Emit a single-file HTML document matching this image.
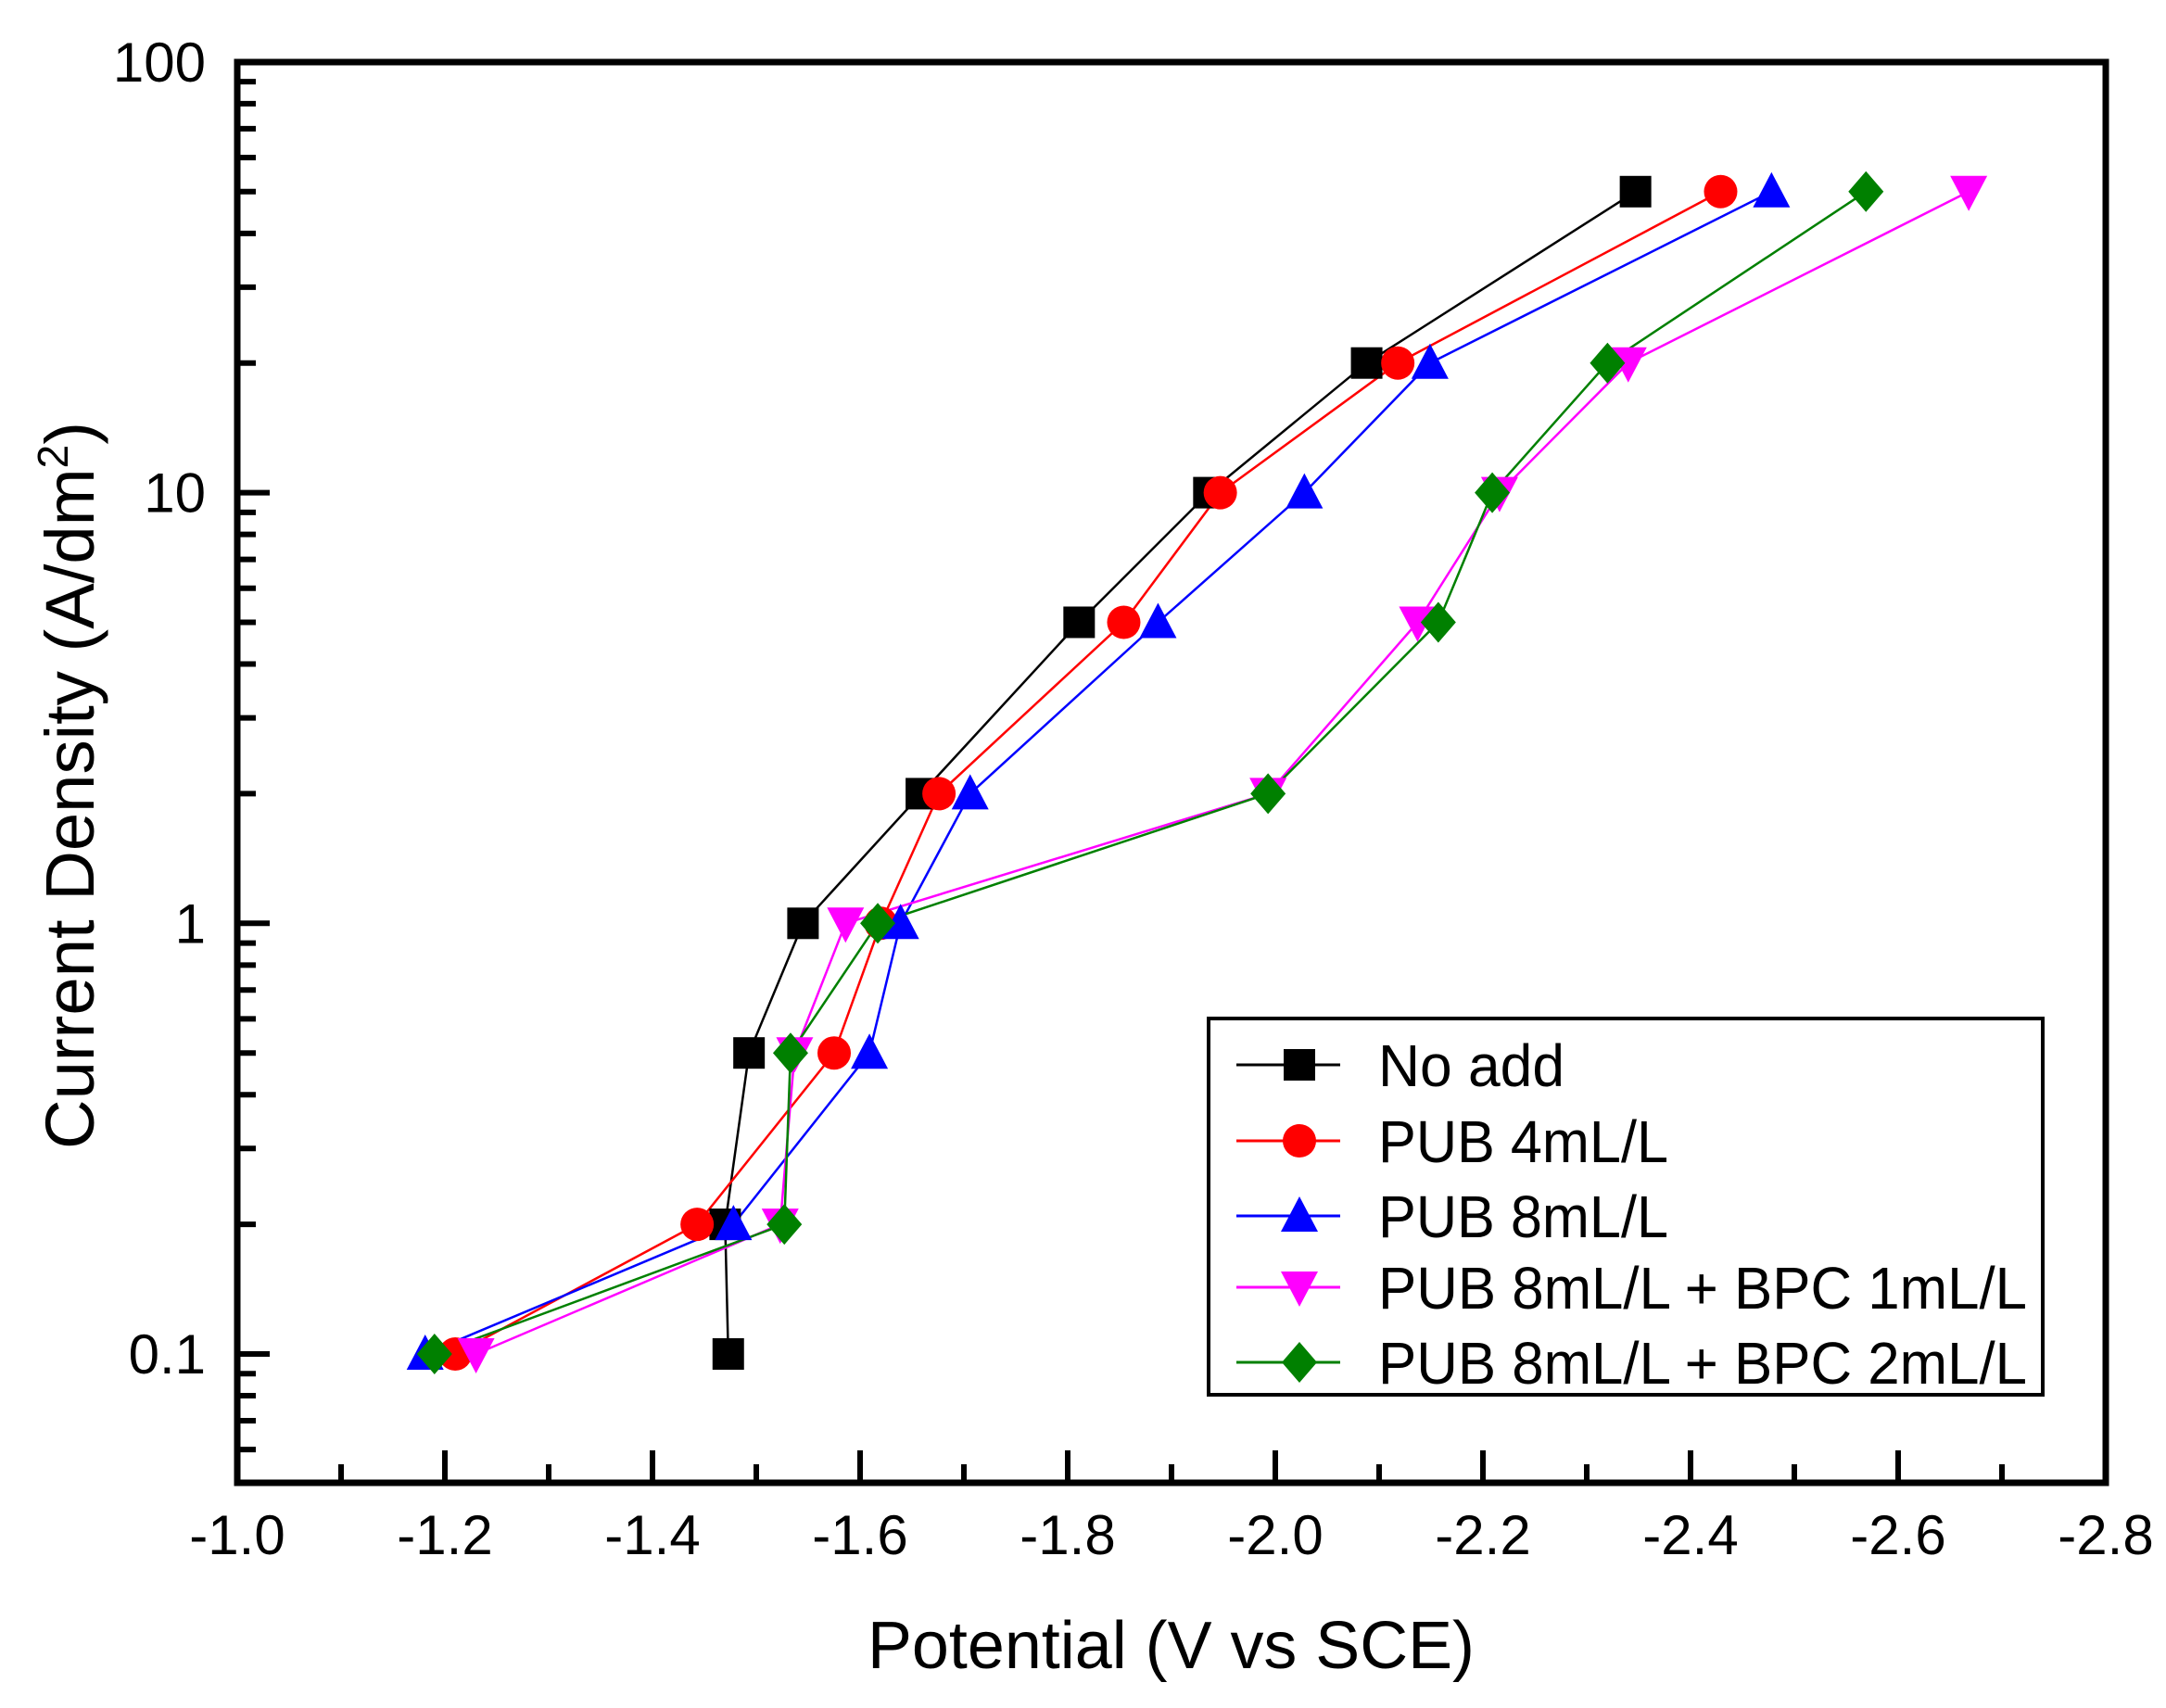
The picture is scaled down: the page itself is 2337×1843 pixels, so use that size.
<!DOCTYPE html>
<html><head><meta charset="utf-8"><style>html,body{margin:0;padding:0;background:#fff}svg{display:block}</style></head>
<body>
<svg width="2337" height="1843" viewBox="0 0 2337 1843" xmlns="http://www.w3.org/2000/svg" font-family="Liberation Sans, Arial, sans-serif">
<rect width="2337" height="1843" fill="#fff"/>
<g id="ticks" stroke="#000" stroke-width="6"></g>
<g id="series"></g>
<rect x="256" y="67" width="2016" height="1533" fill="none" stroke="#000" stroke-width="7"/>
<g id="labels" font-size="60" fill="#000"></g>
<text x="936" y="1800" font-size="72" textLength="655" lengthAdjust="spacingAndGlyphs">Potential (V vs SCE)</text>
<text transform="translate(101,1240) rotate(-90)" font-size="74" textLength="785" lengthAdjust="spacingAndGlyphs">Current Density (A/dm<tspan dy="-28" font-size="46">2</tspan><tspan dy="28">)</tspan></text>
<rect x="1304" y="1099" width="900" height="406" fill="#fff" stroke="#000" stroke-width="4"/>
<g id="legend" font-size="64"></g>
<script>
var NS="http://www.w3.org/2000/svg";
function X(v){return 256+(-1.0-v)/0.2*224;}
function Y(v){return 1461-(Math.log10(v)+1)*464.7;}
function el(p,t,a){var e=document.createElementNS(NS,t);for(var k in a)e.setAttribute(k,a[k]);p.appendChild(e);return e;}
var tk=document.getElementById('ticks'),lb=document.getElementById('labels');
for(var i=0;i<=18;i++){var v=-1.0-i*0.1,x=X(v),L=(i%2==0)?35:20;
 el(tk,'line',{x1:x,y1:1600,x2:x,y2:1600-L});
 if(i%2==0){var t=el(lb,'text',{x:x,y:1677,'text-anchor':'middle'});t.textContent=v.toFixed(1);}}
for(var d=-2;d<=1;d++){for(var m=1;m<=9;m++){var v=m*Math.pow(10,d),y=Y(v);if(y<67||y>1600)continue;
 el(tk,'line',{x1:256,y1:y,x2:256+(m==1?35:20),y2:y});}}
[[0.1,"0.1"],[1,"1"],[10,"10"],[100,"100"]].forEach(function(a){var t=el(lb,'text',{x:222,y:Y(a[0])+21,'text-anchor':'end'});t.textContent=a[1];});
var ys=[0.1,0.2,0.5,1,2,5,10,20,50];
var S=[
 ["#000","sq",[-1.473,-1.47,-1.493,-1.545,-1.659,-1.811,-1.936,-2.088,-2.347],"No add",201],
 ["#ff0000","ci",[-1.21,-1.443,-1.575,-1.62,-1.676,-1.854,-1.947,-2.118,-2.429],"PUB 4mL/L",313],
 ["#0000ff","tu",[-1.181,-1.478,-1.609,-1.639,-1.706,-1.887,-2.028,-2.149,-2.478],"PUB 8mL/L",313],
 ["#ff00ff","td",[-1.23,-1.523,-1.537,-1.586,-1.993,-2.137,-2.216,-2.34,-2.668],"PUB 8mL/L + BPC 1mL/L",700],
 ["#008000","di",[-1.19,-1.527,-1.533,-1.617,-1.993,-2.157,-2.209,-2.32,-2.569],"PUB 8mL/L + BPC 2mL/L",700]];
function mk(g,type,x,y,c){var r=17;
 if(type=="sq")el(g,'rect',{x:x-r,y:y-r,width:2*r,height:2*r,fill:c});
 else if(type=="ci")el(g,'circle',{cx:x,cy:y,r:r+1,fill:c});
 else if(type=="tu")el(g,'polygon',{points:(x)+','+(y-r-4)+' '+(x+r+3)+','+(y+r)+' '+(x-r-3)+','+(y+r),fill:c});
 else if(type=="td")el(g,'polygon',{points:(x)+','+(y+r+4)+' '+(x+r+3)+','+(y-r)+' '+(x-r-3)+','+(y-r),fill:c});
 else el(g,'polygon',{points:x+','+(y-r-5)+' '+(x+r+2)+','+y+' '+x+','+(y+r+5)+' '+(x-r-2)+','+y,fill:c});}
var sg=document.getElementById('series'),lg=document.getElementById('legend');
S.forEach(function(s,k){var pts=s[2].map(function(v,i){return X(v)+','+Y(ys[i]);}).join(' ');
 el(sg,'polyline',{points:pts,fill:'none',stroke:s[0],'stroke-width':2.5});});
S.forEach(function(s){s[2].forEach(function(v,i){mk(sg,s[1],X(v),Y(ys[i]),s[0]);});});
var ly=[1149,1231,1312,1389,1470];
S.forEach(function(s,k){var y=ly[k];el(lg,'line',{x1:1334,y1:y,x2:1446,y2:y,stroke:s[0],'stroke-width':3});
 mk(lg,s[1],1402,y,s[0]);var t=el(lg,'text',{x:1487,y:y+23,fill:'#000',textLength:s[4],lengthAdjust:'spacingAndGlyphs'});t.textContent=s[3];});
</script>
</svg>
</body></html>
